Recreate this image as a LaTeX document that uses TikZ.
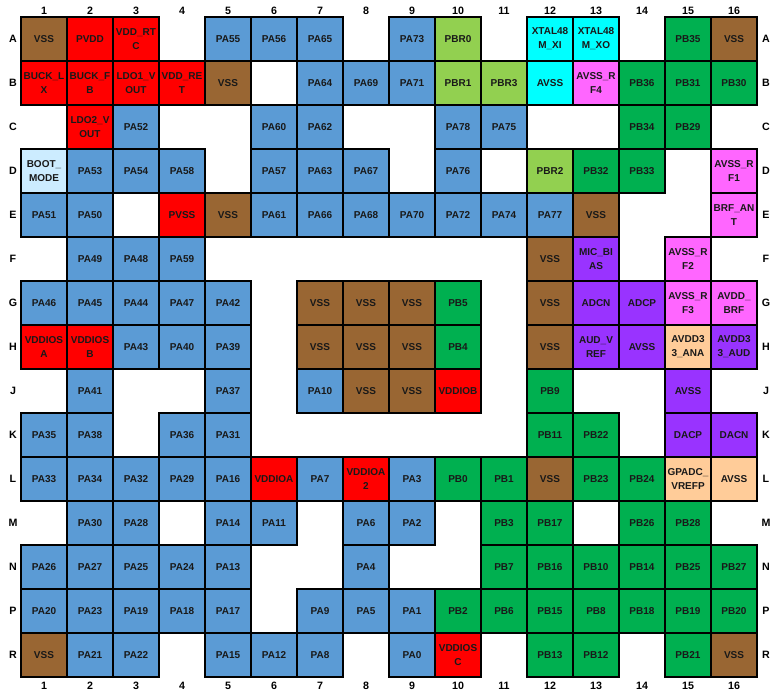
\documentclass[tikz,border=0pt]{standalone}
\usepackage{fontspec}
\setmainfont{Liberation Sans}
\usepackage{tikz}
\usetikzlibrary{calc}
\definecolor{vsscol}{HTML}{996633}
\definecolor{pwrcol}{HTML}{FF0000}
\definecolor{pacol}{HTML}{5B9BD5}
\definecolor{pbrcol}{HTML}{92D050}
\definecolor{pbcol}{HTML}{00B050}
\definecolor{xtalcol}{HTML}{00FFFF}
\definecolor{rfcol}{HTML}{FF66FF}
\definecolor{audcol}{HTML}{9933FF}
\definecolor{anacol}{HTML}{FFCC99}
\definecolor{bootcol}{HTML}{CCECFF}
\begin{document}
\begin{tikzpicture}[x=0.75pt,y=-0.75pt,
ball/.style={draw,line width=1.1pt,align=center,inner sep=0pt,minimum width=34.5pt,minimum height=33pt,
  font=\fontsize{7.5}{10.5}\selectfont\bfseries,text=black!90},
lbl/.style={font=\fontsize{8}{9}\selectfont\bfseries,inner sep=0pt},
vss/.style={fill=vsscol},pwr/.style={fill=pwrcol},pa/.style={fill=pacol},pbr/.style={fill=pbrcol},
pb/.style={fill=pbcol},xtal/.style={fill=xtalcol},rf/.style={fill=rfcol},aud/.style={fill=audcol},
ana/.style={fill=anacol},boot/.style={fill=bootcol}]
\useasboundingbox (0,0) rectangle (779,698);
\foreach \c in {1,...,16}{
  \node[lbl](top-\c) at ({44+46*(\c-1)},11){\c};
  \node[lbl](bot-\c) at ({44+46*(\c-1)},686){\c};}
\foreach \r [count=\i] in {A,B,C,D,E,F,G,H,J,K,L,M,N,P,R}{
  \node[lbl](left-\r) at (13,{39+44*(\i-1)}){\r};
  \node[lbl](right-\r) at (766,{39+44*(\i-1)}){\r};}
\foreach \r/\c in {A/1,A/16,B/5,E/5,E/13,F/12,G/7,G/8,G/9,G/12,H/7,H/8,H/9,H/12,J/8,J/9,L/12,R/1,R/16}
  \node[ball,vss](\r\c) at (top-\c |- left-\r){VSS};
\foreach \r/\c/\t in {A/2/PVDD,A/3/{VDD\_RT\\C},B/1/{BUCK\_L\\X},B/2/{BUCK\_F\\B},B/3/{LDO1\_V\\OUT},
  B/4/{VDD\_RE\\T},C/2/{LDO2\_V\\OUT},E/4/PVSS,H/1/{VDDIOS\\A},H/2/{VDDIOS\\B},J/10/VDDIOB,
  L/6/VDDIOA,L/8/{VDDIOA\\2},R/10/{VDDIOS\\C}}
  \node[ball,pwr](\r\c) at (top-\c |- left-\r){\t};
\foreach \r/\c/\t in {A/5/PA55,A/6/PA56,A/7/PA65,A/9/PA73,B/7/PA64,B/8/PA69,B/9/PA71,
  C/3/PA52,C/6/PA60,C/7/PA62,C/10/PA78,C/11/PA75,D/2/PA53,D/3/PA54,D/4/PA58,D/6/PA57,D/7/PA63,
  D/8/PA67,D/10/PA76,E/1/PA51,E/2/PA50,E/6/PA61,E/7/PA66,E/8/PA68,E/9/PA70,E/10/PA72,E/11/PA74,
  E/12/PA77,F/2/PA49,F/3/PA48,F/4/PA59,G/1/PA46,G/2/PA45,G/3/PA44,G/4/PA47,G/5/PA42,H/3/PA43,
  H/4/PA40,H/5/PA39,J/2/PA41,J/5/PA37,J/7/PA10,K/1/PA35,K/2/PA38,K/4/PA36,K/5/PA31,L/1/PA33,
  L/2/PA34,L/3/PA32,L/4/PA29,L/5/PA16,L/7/PA7,L/9/PA3,M/2/PA30,M/3/PA28,M/5/PA14,M/6/PA11,
  M/8/PA6,M/9/PA2,N/1/PA26,N/2/PA27,N/3/PA25,N/4/PA24,N/5/PA13,N/8/PA4,P/1/PA20,P/2/PA23,
  P/3/PA19,P/4/PA18,P/5/PA17,P/7/PA9,P/8/PA5,P/9/PA1,R/2/PA21,R/3/PA22,R/5/PA15,R/6/PA12,
  R/7/PA8,R/9/PA0}
  \node[ball,pa](\r\c) at (top-\c |- left-\r){\t};
\foreach \r/\c/\t in {A/10/PBR0,B/10/PBR1,B/11/PBR3,D/12/PBR2}
  \node[ball,pbr](\r\c) at (top-\c |- left-\r){\t};
\foreach \r/\c/\t in {A/15/PB35,B/14/PB36,B/15/PB31,B/16/PB30,C/14/PB34,C/15/PB29,D/13/PB32,
  D/14/PB33,G/10/PB5,H/10/PB4,J/12/PB9,K/12/PB11,K/13/PB22,L/10/PB0,L/11/PB1,L/13/PB23,L/14/PB24,
  M/11/PB3,M/12/PB17,M/14/PB26,M/15/PB28,N/11/PB7,N/12/PB16,N/13/PB10,N/14/PB14,N/15/PB25,
  N/16/PB27,P/10/PB2,P/11/PB6,P/12/PB15,P/13/PB8,P/14/PB18,P/15/PB19,P/16/PB20,R/12/PB13,
  R/13/PB12,R/15/PB21}
  \node[ball,pb](\r\c) at (top-\c |- left-\r){\t};
\foreach \r/\c/\t in {A/12/{XTAL48\\M\_XI},A/13/{XTAL48\\M\_XO},B/12/AVSS}
  \node[ball,xtal](\r\c) at (top-\c |- left-\r){\t};
\foreach \r/\c/\t in {B/13/{AVSS\_R\\F4},D/16/{AVSS\_R\\F1},E/16/{BRF\_AN\\T},F/15/{AVSS\_R\\F2},
  G/15/{AVSS\_R\\F3},G/16/{AVDD\_\\BRF}}
  \node[ball,rf](\r\c) at (top-\c |- left-\r){\t};
\foreach \r/\c/\t in {F/13/{MIC\_BI\\AS},G/13/ADCN,G/14/ADCP,H/13/{AUD\_V\\REF},H/14/AVSS,
  H/16/{AVDD3\\3\_AUD},J/15/AVSS,K/15/DACP,K/16/DACN}
  \node[ball,aud](\r\c) at (top-\c |- left-\r){\t};
\foreach \r/\c/\t in {H/15/{AVDD3\\3\_ANA},L/15/{GPADC\_\\VREFP},L/16/AVSS}
  \node[ball,ana](\r\c) at (top-\c |- left-\r){\t};
\node[ball,boot](D1) at (top-1 |- left-D){BOOT\_\\MODE};
\end{tikzpicture}
\end{document}
